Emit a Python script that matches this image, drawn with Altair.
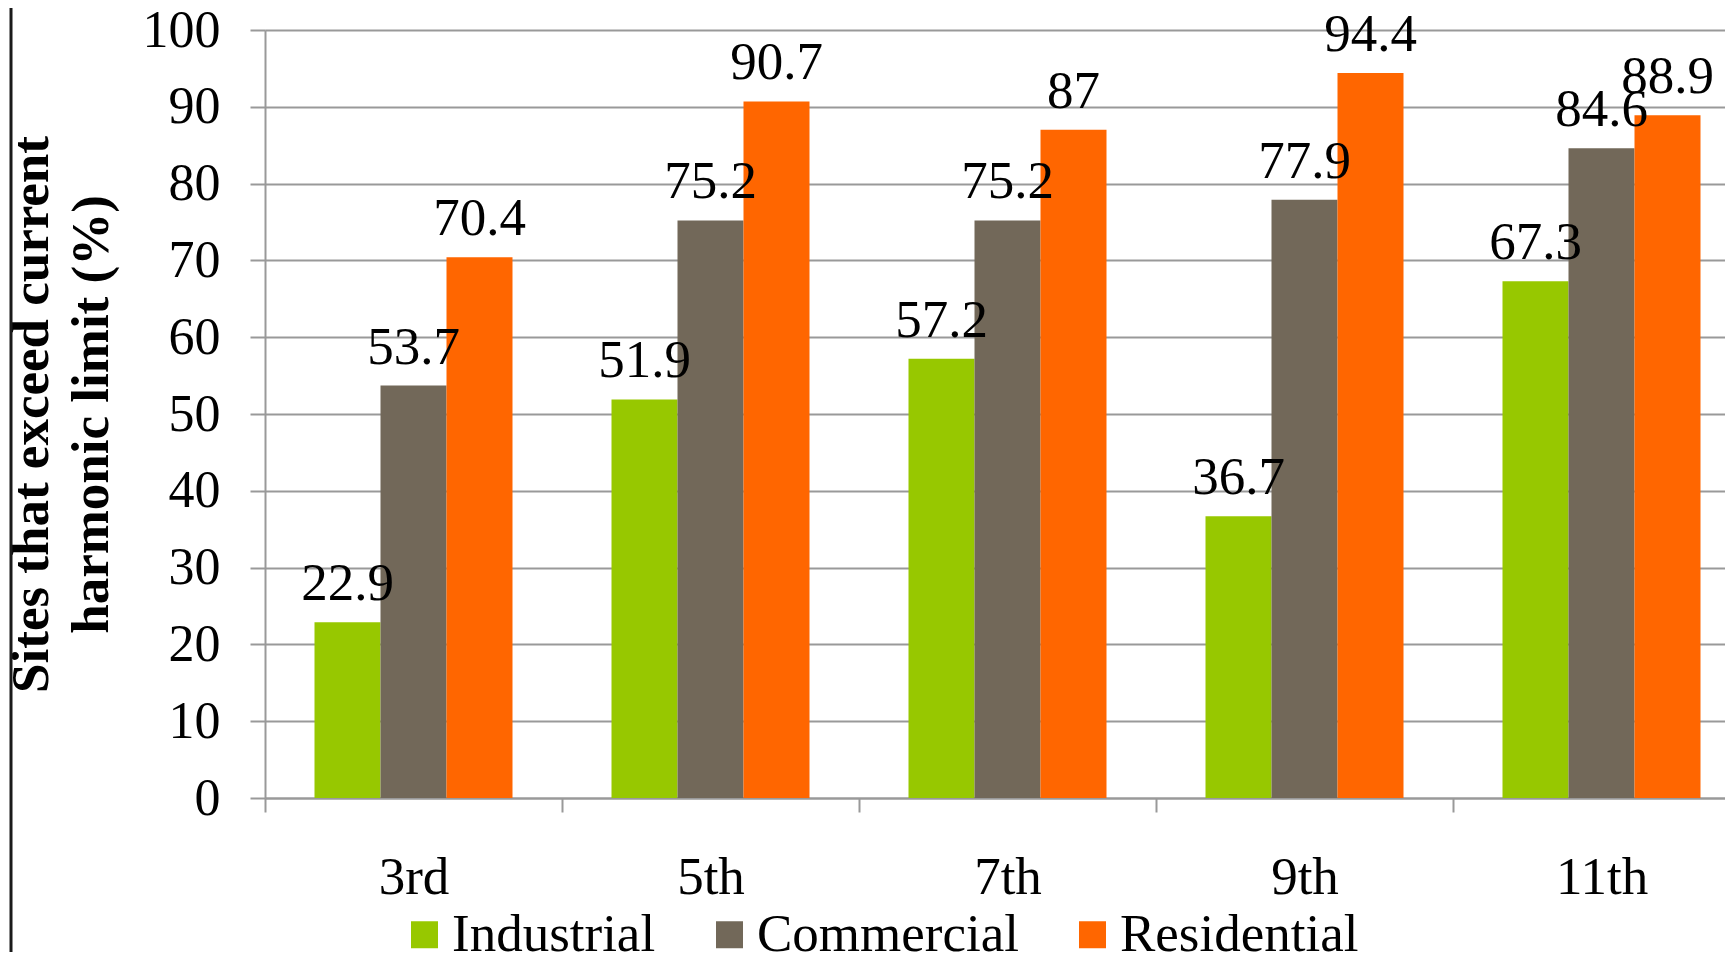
import altair as alt
import pandas as pd

harmonics = ["3rd", "5th", "7th", "9th", "11th"]
sectors = ["Industrial", "Commercial", "Residential"]
industrial = [22.9, 51.9, 57.2, 36.7, 67.3]
commercial = [53.7, 75.2, 75.2, 77.9, 84.6]
residential = [70.4, 90.7, 87, 94.4, 88.9]
colors = ["#97C800", "#726859", "#FF6600"]

rows = []
for series, vals in zip(sectors, [industrial, commercial, residential]):
    for h, v in zip(harmonics, vals):
        rows.append({"harmonic": h, "sector": series, "value": v, "label": f"{v:g}"})
df = pd.DataFrame(rows)

FONT = "'Liberation Serif', 'Times New Roman', Times, serif"

x_enc = alt.X(
    "harmonic:N",
    sort=harmonics,
    scale=alt.Scale(range=[0, 1485], paddingInner=0, paddingOuter=0),
    axis=alt.Axis(
        title=None, labelAngle=0, tickBand="extent", grid=False,
        labelFont=FONT, labelFontSize=53, labelColor="black",
        labelBaseline="alphabetic", labelPadding=81,
        tickSize=14, tickColor="#999999", tickWidth=2,
        domainColor="#999999", domainWidth=2,
    ),
)
xoff = alt.XOffset("sector:N", sort=sectors,
                   scale=alt.Scale(paddingInner=0, paddingOuter=0.75))
y_enc = alt.Y(
    "value:Q",
    scale=alt.Scale(domain=[0, 100], nice=False),
    axis=alt.Axis(
        title=["Sites that exceed current", "harmonic limit (%)"],
        titleFont=FONT, titleFontSize=53, titleFontWeight="bold",
        titleColor="black", titleLineHeight=60,
        titleAngle=270, titleBaseline="alphabetic", titleAlign="center",
        titleX=-218, titleY=384,
        values=list(range(0, 101, 10)),
        labelFont=FONT, labelFontSize=52, labelColor="black",
        labelPadding=30, tickSize=15, tickColor="#999999", tickWidth=2,
        domainColor="#999999", domainWidth=2,
        gridColor="#999999", gridWidth=2,
    ),
)

base = alt.Chart(df)
bars = base.mark_bar().encode(
    x=x_enc, xOffset=xoff, y=y_enc,
    color=alt.Color(
        "sector:N", sort=sectors,
        scale=alt.Scale(domain=sectors, range=colors),
        legend=alt.Legend(
            orient="none", legendX=133, legendY=878, direction="horizontal",
            title=None, symbolType="square", symbolSize=729,
            symbolStrokeWidth=0, labelFont=FONT, labelFontSize=53,
            labelColor="black", labelOffset=1, columnPadding=47, padding=0,
            labelLimit=400,
        ),
    ),
)
labels = base.mark_text(
    font=FONT, fontSize=53, color="black", baseline="alphabetic", dy=-22
).encode(x=x_enc, xOffset=xoff, y=y_enc, text="label:N")

edge = alt.Chart(pd.DataFrame({"a": [0]})).mark_rule(
    color="#1a1a1a", strokeWidth=3
).encode(x=alt.value(-254), y=alt.value(-30), y2=alt.value(940))

chart = alt.layer(bars, labels, edge).properties(
    width=1460, height=768,
    autosize=alt.AutoSizeParams(type="none"),
    padding={"left": 257, "top": 22, "right": 0, "bottom": 154},
).configure_view(stroke=None).configure(background="white")

chart.save("out.html", embed_options={"renderer": "svg", "actions": False})
